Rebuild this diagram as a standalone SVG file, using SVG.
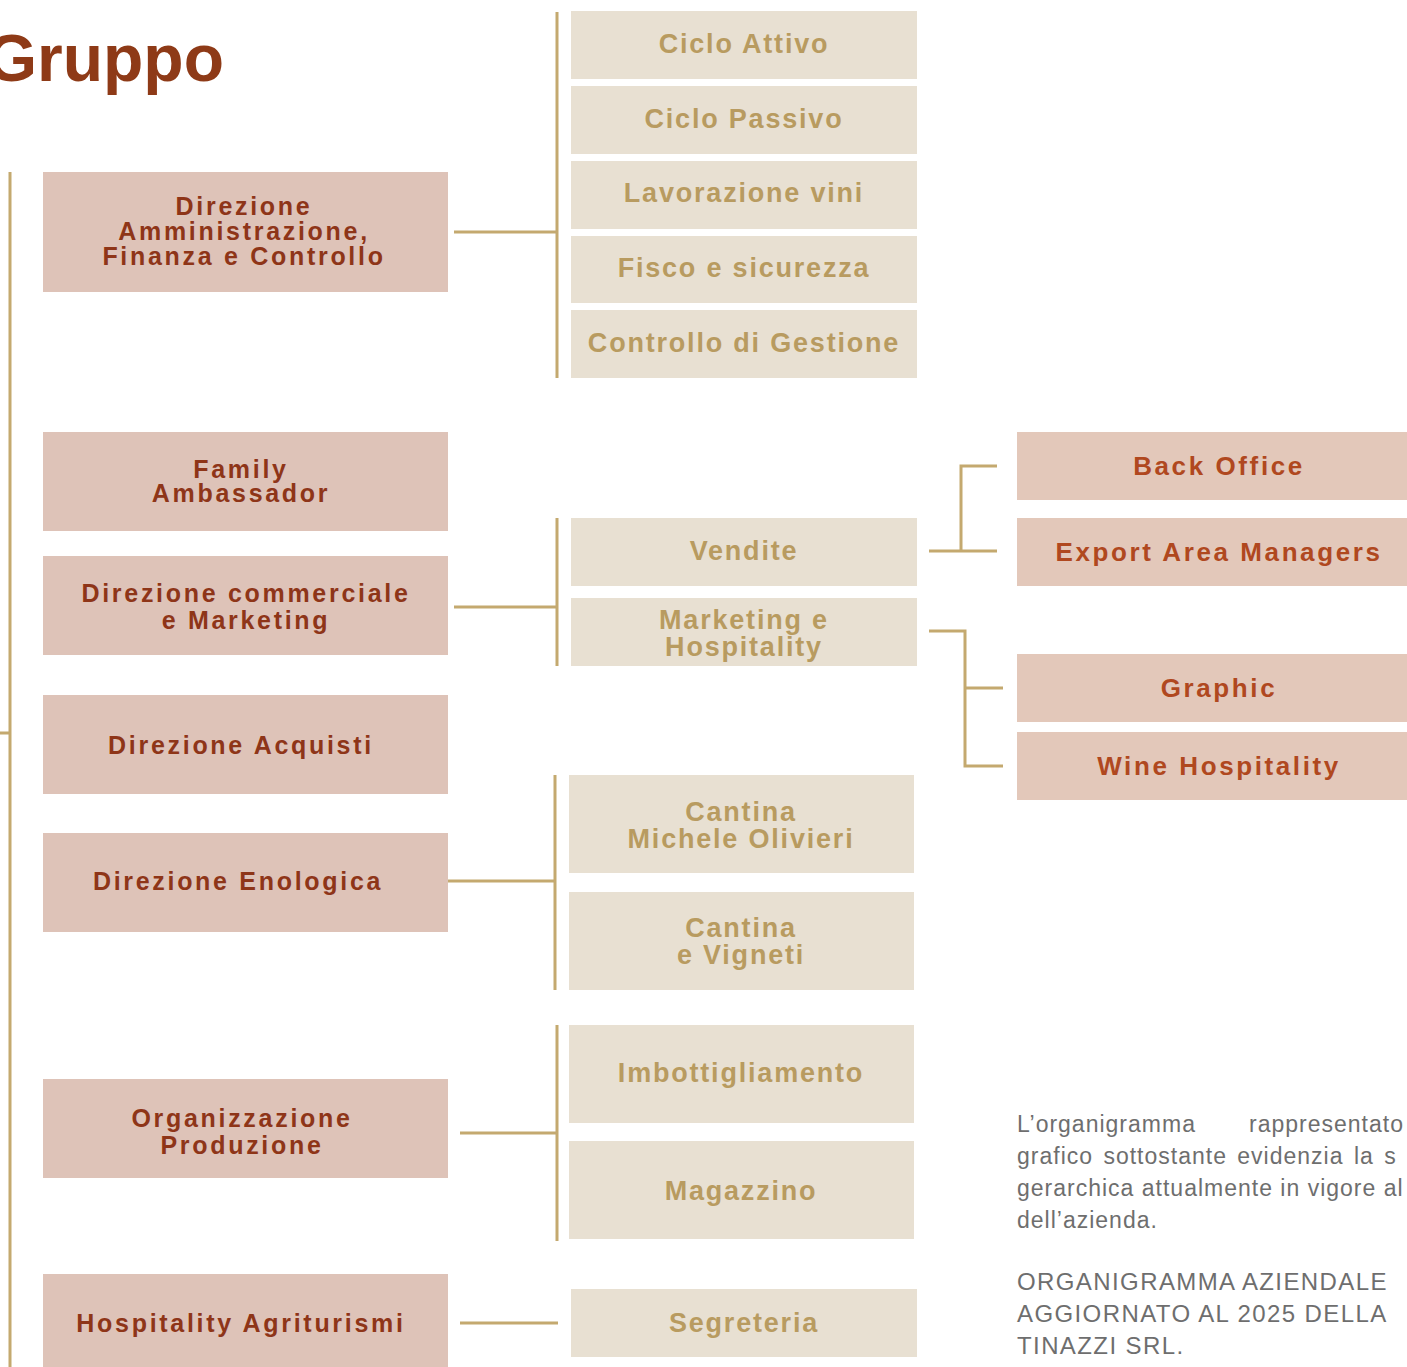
<svg xmlns="http://www.w3.org/2000/svg" width="1407" height="1367" viewBox="0 0 1407 1367">
<style>
.lbox{fill:#DEC3B8}
.mbox{fill:#E8E0D2}
.rbox{fill:#E3C8BA}
.lt{font-family:"Liberation Sans",Arial,sans-serif;font-weight:bold;font-size:25px;fill:#8E3518;text-anchor:middle;letter-spacing:2.7px}
.mt{font-family:"Liberation Sans",Arial,sans-serif;font-weight:bold;font-size:27px;fill:#B89B60;text-anchor:middle;letter-spacing:1.8px}
.rt{font-family:"Liberation Sans",Arial,sans-serif;font-weight:bold;font-size:26px;fill:#B0481F;text-anchor:middle;letter-spacing:2.6px}
.pt{font-family:"Liberation Sans",Arial,sans-serif;font-size:23px;fill:#6E6E6E;letter-spacing:1px}
.pc{font-family:"Liberation Sans",Arial,sans-serif;font-size:24px;fill:#6E6E6E;letter-spacing:1.4px}
.conn{stroke:#C4A96F;stroke-width:3;fill:none}
</style>
<rect width="1407" height="1367" fill="#FFFFFF"/>
<text x="224" y="81" font-family="Liberation Sans,Arial,sans-serif" font-weight="bold" font-size="66" fill="#8E3A17" text-anchor="end">Gruppo</text>

<g id="connectors">
<path class="conn" d="M10 172V1367M0 733H10"/>
<path class="conn" d="M454 232H557M557 12V378"/>
<path class="conn" d="M454 607H557M557 518V666"/>
<path class="conn" d="M448 881H555M555 775V990"/>
<path class="conn" d="M460 1133H557M557 1025V1241"/>
<path class="conn" d="M460 1323H558"/>
<path class="conn" d="M929 551H997M961 551V466H997"/>
<path class="conn" d="M929 631H965V766H1003M965 688H1003"/>
</g>

<g id="n-afc"><rect class="lbox" x="43" y="172" width="405" height="120"/><text class="lt" x="244" y="215">Direzione</text><text class="lt" x="244" y="240">Amministrazione,</text><text class="lt" x="244" y="265">Finanza e Controllo</text></g>
<g id="n-family"><rect class="lbox" x="43" y="432" width="405" height="99"/><text class="lt" x="241" y="478">Family</text><text class="lt" x="241" y="502">Ambassador</text></g>
<g id="n-comm"><rect class="lbox" x="43" y="556" width="405" height="99"/><text class="lt" x="246" y="602">Direzione commerciale</text><text class="lt" x="246" y="629">e Marketing</text></g>
<g id="n-acq"><rect class="lbox" x="43" y="695" width="405" height="99"/><text class="lt" x="241" y="754">Direzione Acquisti</text></g>
<g id="n-eno"><rect class="lbox" x="43" y="833" width="405" height="99"/><text class="lt" x="238" y="890">Direzione Enologica</text></g>
<g id="n-prod"><rect class="lbox" x="43" y="1079" width="405" height="99"/><text class="lt" x="242" y="1127">Organizzazione</text><text class="lt" x="242" y="1154">Produzione</text></g>
<g id="n-hosp"><rect class="lbox" x="43" y="1274" width="405" height="93"/><text class="lt" x="241" y="1332">Hospitality Agriturismi</text></g>

<g id="n-ciclo-attivo"><rect class="mbox" x="571" y="11" width="346" height="68"/><text class="mt" x="744" y="53">Ciclo Attivo</text></g>
<g id="n-ciclo-passivo"><rect class="mbox" x="571" y="86" width="346" height="68"/><text class="mt" x="744" y="128">Ciclo Passivo</text></g>
<g id="n-lavorazione"><rect class="mbox" x="571" y="161" width="346" height="68"/><text class="mt" x="744" y="202">Lavorazione vini</text></g>
<g id="n-fisco"><rect class="mbox" x="571" y="236" width="346" height="67"/><text class="mt" x="744" y="277">Fisco e sicurezza</text></g>
<g id="n-controllo"><rect class="mbox" x="571" y="310" width="346" height="68"/><text class="mt" x="744" y="352">Controllo di Gestione</text></g>
<g id="n-vendite"><rect class="mbox" x="571" y="518" width="346" height="68"/><text class="mt" x="744" y="560">Vendite</text></g>
<g id="n-marketing"><rect class="mbox" x="571" y="598" width="346" height="68"/><text class="mt" x="744" y="629">Marketing e</text><text class="mt" x="744" y="656">Hospitality</text></g>
<g id="n-cantina-mo"><rect class="mbox" x="569" y="775" width="345" height="98"/><text class="mt" x="741" y="821">Cantina</text><text class="mt" x="741" y="848">Michele Olivieri</text></g>
<g id="n-cantina-v"><rect class="mbox" x="569" y="892" width="345" height="98"/><text class="mt" x="741" y="937">Cantina</text><text class="mt" x="741" y="964">e Vigneti</text></g>
<g id="n-imbott"><rect class="mbox" x="569" y="1025" width="345" height="98"/><text class="mt" x="741" y="1082">Imbottigliamento</text></g>
<g id="n-magazzino"><rect class="mbox" x="569" y="1141" width="345" height="98"/><text class="mt" x="741" y="1200">Magazzino</text></g>
<g id="n-segreteria"><rect class="mbox" x="571" y="1289" width="346" height="68"/><text class="mt" x="744" y="1332">Segreteria</text></g>

<g id="n-backoffice"><rect class="rbox" x="1017" y="432" width="390" height="68"/><text class="rt" x="1219" y="475">Back Office</text></g>
<g id="n-export"><rect class="rbox" x="1017" y="518" width="390" height="68"/><text class="rt" x="1219" y="561">Export Area Managers</text></g>
<g id="n-graphic"><rect class="rbox" x="1017" y="654" width="390" height="68"/><text class="rt" x="1219" y="697">Graphic</text></g>
<g id="n-wine"><rect class="rbox" x="1017" y="732" width="390" height="68"/><text class="rt" x="1219" y="775">Wine Hospitality</text></g>

<g id="note">
<text class="pt" x="1017" y="1132">L’organigramma</text><text class="pt" x="1249" y="1132">rappresentato</text>
<text class="pt" x="1017" y="1164" word-spacing="3">grafico sottostante evidenzia la s</text>
<text class="pt" x="1017" y="1196">gerarchica attualmente in vigore al</text>
<text class="pt" x="1017" y="1228">dell’azienda.</text>
<text class="pc" x="1017" y="1290">ORGANIGRAMMA AZIENDALE</text>
<text class="pc" x="1017" y="1322">AGGIORNATO AL 2025 DELLA</text>
<text class="pc" x="1017" y="1354">TINAZZI SRL.</text>
</g>
</svg>
